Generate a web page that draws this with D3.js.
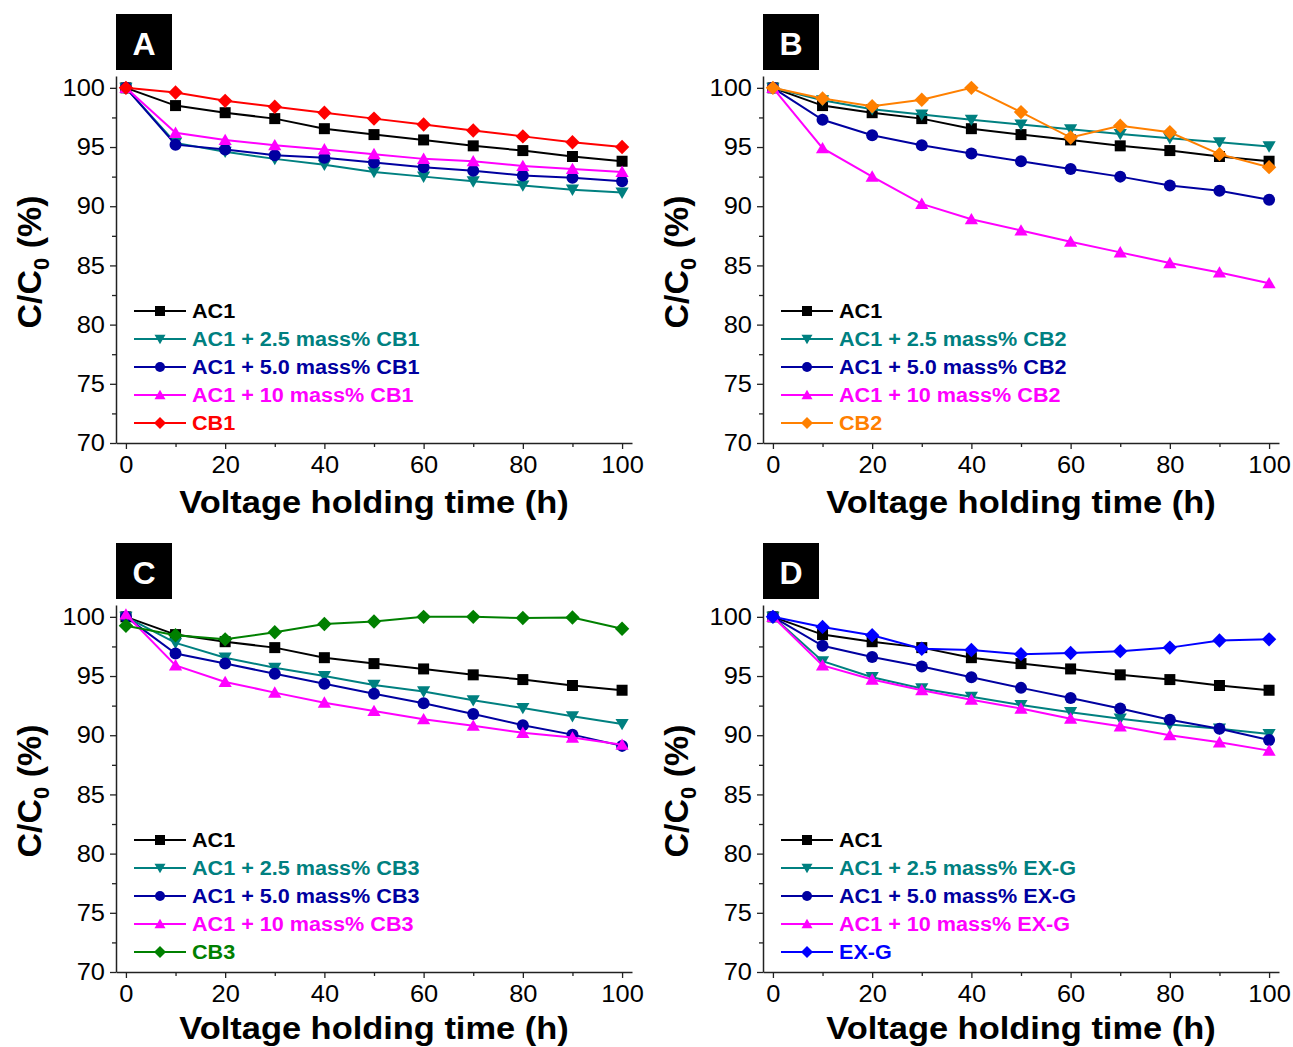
<!DOCTYPE html>
<html>
<head>
<meta charset="utf-8">
<script src="https://cdn.jsdelivr.net/npm/d3@7"></script>
<style>
  html, body { margin: 0; padding: 0; background: #fff; }
  svg { display: block; }
  text { font-family: "Liberation Sans", Arial, sans-serif; }
</style>
</head>
<body>
<svg id="fig" width="1293" height="1047"></svg>
<script>
// Capacitance retention C/C0 (%) during voltage holding
const hours = [0, 10, 20, 30, 40, 50, 60, 70, 80, 90, 100];

const ac1 = [100, 98.5, 97.9, 97.4, 96.55, 96.05, 95.6, 95.1, 94.7, 94.2, 93.8];

// Panel A: AC1 + CB1
const cb1_25 = [100, 95.35, 94.6, 94.0, 93.5, 92.9, 92.5, 92.1, 91.75, 91.4, 91.15];
const cb1_50 = [100, 95.2, 94.8, 94.3, 94.1, 93.7, 93.3, 93.0, 92.6, 92.4, 92.1];
const cb1_10 = [100, 96.2, 95.6, 95.15, 94.8, 94.4, 94.0, 93.8, 93.4, 93.15, 92.9];
const cb1 = [100, 99.6, 98.9, 98.4, 97.9, 97.4, 96.9, 96.4, 95.9, 95.4, 95.0];

// Panel B: AC1 + CB2
const cb2_25 = [100, 98.95, 98.2, 97.75, 97.3, 96.9, 96.5, 96.1, 95.75, 95.4, 95.05];
const cb2_50 = [100, 97.3, 96.0, 95.15, 94.45, 93.8, 93.15, 92.5, 91.75, 91.3, 90.55];
const cb2_10 = [100, 94.9, 92.5, 90.2, 88.9, 87.95, 87.0, 86.1, 85.2, 84.4, 83.5];
const cb2 = [100, 99.1, 98.45, 99.0, 100, 97.95, 95.8, 96.8, 96.25, 94.4, 93.3];

// Panel C: AC1 + CB3
const cb3_25 = [100, 97.8, 96.55, 95.7, 95.0, 94.25, 93.7, 92.95, 92.3, 91.6, 90.95];
const cb3_50 = [100, 96.9, 96.05, 95.2, 94.35, 93.5, 92.7, 91.8, 90.85, 90.05, 89.1];
const cb3_10 = [100.2, 95.9, 94.5, 93.6, 92.75, 92.05, 91.35, 90.8, 90.2, 89.8, 89.2];
const cb3 = [99.25, 98.45, 98.1, 98.7, 99.4, 99.6, 100, 100, 99.9, 99.95, 99.0];

// Panel D: AC1 + EX-G
const exg_25 = [100, 96.25, 94.9, 93.95, 93.25, 92.55, 91.95, 91.4, 90.9, 90.55, 90.1];
const exg_50 = [100, 97.55, 96.6, 95.8, 94.9, 94.0, 93.15, 92.25, 91.3, 90.55, 89.6];
const exg_10 = [100, 95.9, 94.7, 93.8, 93.0, 92.25, 91.4, 90.75, 90.0, 89.4, 88.7];
const exg = [100, 99.15, 98.45, 97.3, 97.2, 96.85, 96.95, 97.1, 97.4, 98.0, 98.1];

const xTicks = [0, 20, 40, 60, 80, 100];
const yTicks = [70, 75, 80, 85, 90, 95, 100];

const panelLetters = ["A", "B", "C", "D"];
const additives = ["CB1", "CB2", "CB3", "EX-G"];
const panelSeries = [
  [ac1, cb1_25, cb1_50, cb1_10, cb1],
  [ac1, cb2_25, cb2_50, cb2_10, cb2],
  [ac1, cb3_25, cb3_50, cb3_10, cb3],
  [ac1, exg_25, exg_50, exg_10, exg]
];
const pureColors = ["#ff0000", "#ff8000", "#008000", "#0000ff"];
const baseColors = ["#000000", "#008080", "#0000a0", "#ff00ff"];
const shapes = ["square", "down", "circle", "up", "diamond"];

function seriesNames(add) {
  return ["AC1", `AC1 + 2.5 mass% ${add}`, `AC1 + 5.0 mass% ${add}`, `AC1 + 10 mass% ${add}`, add];
}

// Marker path builders (centered at 0,0)
function markerPath(shape, s) {
  const h = s / 2;
  switch (shape) {
    case "square": return `M${-h},${-h}H${h}V${h}H${-h}Z`;
    case "circle": return `M${h},0A${h},${h} 0 1,1 ${-h},0A${h},${h} 0 1,1 ${h},0Z`;
    case "up": return `M0,${-h * 1.05}L${h * 1.1},${h * 0.85}L${-h * 1.1},${h * 0.85}Z`;
    case "down": return `M0,${h * 1.05}L${h * 1.1},${-h * 0.85}L${-h * 1.1},${-h * 0.85}Z`;
    case "diamond": return `M0,${-h * 1.2}L${h * 1.2},0L0,${h * 1.2}L${-h * 1.2},0Z`;
  }
}

// Widen glyphs horizontally, like the original plotting software's Arial
function widen(sel, k) {
  sel.each(function () {
    const w = this.getComputedTextLength();
    d3.select(this).attr("textLength", w * k).attr("lengthAdjust", "spacingAndGlyphs");
  });
}

const svg = d3.select("#fig");
const offsets = [[0, 0], [647, 0], [0, 529], [647, 529]];

panelLetters.forEach((letter, p) => {
  const [dx, dy] = offsets[p];
  const g = svg.append("g").attr("transform", `translate(${dx},${dy})`);

  const x = d3.scaleLinear().domain([-2, 102]).range([116, 632]);
  const y = d3.scaleLinear().domain([70, 101]).range([443, 76]);

  // Panel letter
  g.append("rect").attr("x", 116).attr("y", 14).attr("width", 56).attr("height", 56).attr("fill", "#000");
  g.append("text").attr("x", 144).attr("y", 55).attr("text-anchor", "middle")
    .attr("fill", "#fff").attr("font-weight", "bold").attr("font-size", 32).text(letter);

  // Axes
  const xAxis = d3.axisBottom(x).tickValues(xTicks).tickSize(6).tickSizeOuter(0).tickPadding(7).tickFormat(d3.format("d"));
  const gx = g.append("g").attr("transform", `translate(0,${y(70)})`).call(xAxis);
  const xMinor = d3.axisBottom(x).tickValues([10, 30, 50, 70, 90]).tickSize(4).tickSizeOuter(0).tickFormat("");
  const gxm = g.append("g").attr("transform", `translate(0,${y(70)})`).call(xMinor);
  gxm.select(".domain").remove();

  const yAxis = d3.axisLeft(y).tickValues(yTicks).tickSize(6).tickSizeOuter(0).tickPadding(5).tickFormat(d3.format("d"));
  const gy = g.append("g").attr("transform", `translate(${x(-2)},0)`).call(yAxis);
  const yMinor = d3.axisLeft(y).tickValues([72.5, 77.5, 82.5, 87.5, 92.5, 97.5]).tickSize(4).tickSizeOuter(0).tickFormat("");
  const gym = g.append("g").attr("transform", `translate(${x(-2)},0)`).call(yMinor);
  gym.select(".domain").remove();

  [gx, gy, gxm, gym].forEach(a => {
    a.selectAll(".domain").attr("stroke", "#222").attr("stroke-width", 1.5);
    a.selectAll(".tick line").attr("stroke", "#222").attr("stroke-width", 1.3);
  });
  gx.selectAll(".tick text").attr("font-size", 24).attr("fill", "#000")
    .attr("font-family", "'Liberation Sans', Arial, sans-serif").call(widen, 1.06);
  gy.selectAll(".tick text").attr("font-size", 24).attr("fill", "#000")
    .attr("font-family", "'Liberation Sans', Arial, sans-serif").call(widen, 1.06);

  // Axis titles
  const titleY = p < 2 ? 513 : 510;
  g.append("text").attr("x", 374).attr("y", titleY).attr("text-anchor", "middle")
    .attr("font-weight", "bold").attr("font-size", 31).text("Voltage holding time (h)").call(widen, 1.11);

  const yt = g.append("text").attr("transform", `translate(41,262) rotate(-90)`)
    .attr("text-anchor", "middle").attr("font-weight", "bold").attr("font-size", 34);
  yt.append("tspan").text("C/C");
  yt.append("tspan").attr("font-size", 22).attr("dy", 8).text("0");
  yt.append("tspan").attr("dy", -8).text(" (%)");

  // Series
  const names = seriesNames(additives[p]);
  const colors = [...baseColors, pureColors[p]];
  const line = d3.line().x((d, i) => x(hours[i])).y(d => y(d));

  panelSeries[p].forEach((vals, s) => {
    const sg = g.append("g");
    sg.append("path").datum(vals).attr("d", line).attr("fill", "none")
      .attr("stroke", colors[s]).attr("stroke-width", 2);
    const size = shapes[s] === "square" ? 11 : 12;
    sg.selectAll("path.m").data(vals).join("path").attr("class", "m")
      .attr("transform", (d, i) => `translate(${x(hours[i])},${y(d)})`)
      .attr("d", markerPath(shapes[s], size)).attr("fill", colors[s]);
  });

  // Legend
  names.forEach((name, s) => {
    const ly = 311 + s * 28;
    const lg = g.append("g");
    lg.append("line").attr("x1", 134).attr("x2", 186).attr("y1", ly).attr("y2", ly)
      .attr("stroke", colors[s]).attr("stroke-width", 2);
    lg.append("path").attr("transform", `translate(160,${ly})`)
      .attr("d", markerPath(shapes[s], 10)).attr("fill", colors[s]);
    lg.append("text").attr("x", 192).attr("y", ly).attr("dy", "0.36em")
      .attr("font-weight", "bold").attr("font-size", 20).attr("fill", colors[s]).text(name).call(widen, 1.08);
  });
});
</script>
</body>
</html>
